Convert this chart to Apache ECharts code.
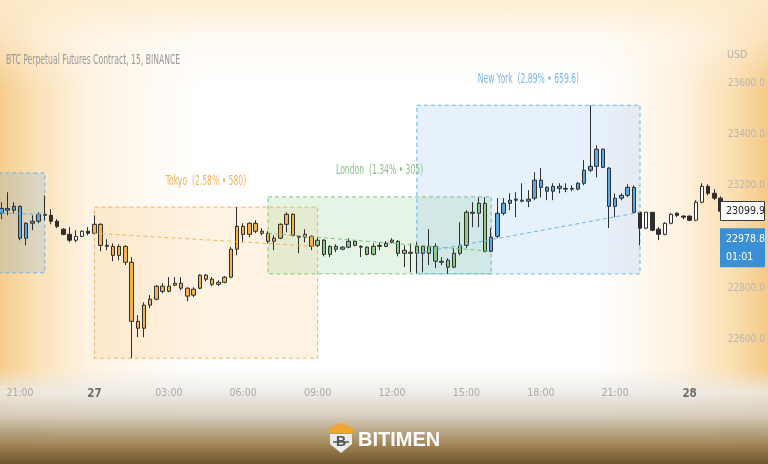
<!DOCTYPE html>
<html><head><meta charset="utf-8">
<script src="https://cdn.jsdelivr.net/npm/echarts@6/dist/echarts.min.js"></script>
<style>
html,body{margin:0;padding:0;background:#fff;}
#wrap{position:relative;width:768px;height:464px;overflow:hidden;
background:
 linear-gradient(to bottom, rgba(255,255,255,0) 0px, rgba(255,255,255,0) 368px, rgba(236,234,229,0.85) 392px, rgba(214,205,188,0.95) 415px, rgba(160,132,86,1) 445px, rgba(110,84,46,1) 464px),
 linear-gradient(to bottom, rgba(253,236,205,0.9) 0px, rgba(255,247,235,0.5) 40px, rgba(255,255,255,0) 90px),
 linear-gradient(to right, #f6cd8c 0px, #fbe3bb 40px, #fef3e3 90px, rgba(255,255,255,0) 200px, rgba(255,255,255,0) 600px, #fef2e0 680px, #fbe0b4 730px, #f5c985 768px),
 #ffffff;}
#chart{width:768px;height:464px;}
</style></head>
<body><div id="wrap"><div id="chart"></div></div>
<script>
// ---------- data ----------
const candleCount = 117;           // 15-minute candles, 26 Jan 20:15 -> 28 Jan 00:15
const startTime = Date.UTC(2023, 0, 26, 20, 15);
// [open, close, low, high]
const ohlc = [
 [23092,23111,23069,23135],[23111,23104,23084,23174],[23104,23119,23092,23135],
 [23119,22995,22987,23123],[22995,23053,22967,23057],[23053,23061,23026,23084],[23061,23088,23053,23096],
 [23088,23084,23065,23162],[23084,23061,23049,23108],[23061,23041,23034,23069],[23030,23010,23006,23034],
 [23010,22987,22979,23038],[22987,23002,22979,23026],[23002,23022,22999,23026],[23022,23014,23006,23038],
 [23014,23049,23010,23084],[23049,22967,22944,23053],[22967,22963,22948,22991],[22963,22928,22905,22975],
 [22928,22963,22909,22971],[22963,22901,22890,22967],[22901,22671,22527,22921],[22671,22644,22609,22695],
 [22644,22734,22609,22745],[22734,22757,22722,22773],[22757,22808,22753,22812],[22808,22788,22780,22819],
 [22788,22808,22784,22843],[22812,22819,22808,22843],[22819,22800,22792,22843],[22800,22769,22749,22804],
 [22773,22796,22765,22804],[22800,22851,22796,22854],[22851,22835,22827,22854],[22835,22815,22808,22843],
 [22815,22823,22808,22831],[22823,22843,22819,22847],[22843,22952,22839,22960],[22952,23041,22928,23116],
 [23041,23010,22979,23053],[23010,23053,22999,23057],[23053,23022,23014,23065],[23022,23014,23006,23034],
 [23014,22983,22975,23022],[22983,22995,22948,23006],[22995,23049,22991,23053],[23049,23088,23018,23096],
 [23088,23006,23002,23092],[23002,22999,22936,23006],[22999,23010,22979,23030],[23002,22963,22948,23006],
 [22967,22987,22960,22999],[22987,22932,22924,22991],[22932,22963,22921,22967],[22963,22952,22940,22971],
 [22952,22960,22948,22963],[22960,22983,22956,22995],[22983,22967,22963,22987],[22963,22960,22921,22967],
 [22960,22932,22928,22963],[22932,22963,22928,22975],[22963,22967,22948,22979],[22963,22975,22960,22983],
 [22979,22987,22975,22995],[22983,22936,22924,22987],[22936,22948,22882,22967],[22936,22940,22862,22975],
 [22936,22963,22858,22979],[22963,22936,22862,22967],[22936,22963,22890,23030],[22963,22905,22878,22975],
 [22905,22901,22890,22921],[22909,22882,22856,22917],[22882,22936,22878,22956],[22936,22967,22928,23057],
 [22967,23096,22956,23104],[23092,23096,23038,23135],[23092,23131,23038,23154],[23131,22944,22940,23154],
 [22944,22999,22940,23034],[23002,23092,22995,23151],[23092,23131,23084,23151],[23131,23143,23104,23170],
 [23143,23147,23077,23174],[23143,23139,23135,23209],[23139,23147,23116,23182],[23151,23221,23143,23252],
 [23221,23193,23154,23268],[23193,23178,23143,23197],[23178,23197,23143,23209],[23197,23189,23170,23209],
 [23189,23186,23174,23209],[23186,23189,23178,23201],[23186,23209,23182,23213],[23209,23260,23201,23299],
 [23260,23275,23252,23513],[23275,23342,23232,23357],[23342,23271,23268,23345],[23268,23119,23034,23271],
 [23119,23151,23077,23170],[23151,23162,23143,23170],[23162,23193,23154,23205],[23193,23096,23092,23201],
 [23096,23034,22967,23096],[23034,23096,23030,23096],[23096,23026,23022,23096],[23030,23010,22987,23038],
 [23010,23053,23006,23057],[23053,23088,23049,23092],[23092,23084,23077,23096],[23081,23077,23069,23084],
 [23081,23065,23061,23084],[23065,23135,23061,23143],[23135,23197,23131,23209],[23197,23170,23162,23205],
 [23170,23151,23143,23186],[23151,23099.9,23096,23158]
];
const sessionNames  = ['New York', 'Tokyo', 'London', 'New York'];
const sessionStart  = [null, '2023-01-27 00:00', '2023-01-27 07:00', '2023-01-27 13:00'];
const sessionEnd    = ['2023-01-26 22:00', '2023-01-27 09:00', '2023-01-27 16:00', '2023-01-27 22:00'];
const sessionHigh   = [23249, 23116, 23156, 23513];
const sessionLow    = [22860, 22527, 22856, 22856];
const sessionLabels = ['', 'Tokyo  (2.58% \u2022 580)', 'London  (1.34% \u2022 305)', 'New York  (2.89% \u2022 659.6)'];
const yTickLabels = [22600, 22800, 23200, 23400, 23600];
const lastPrice = 23099.9;
const markPrice = 22978.8;
const countdown = '01:01';
const titleText = 'BTC Perpetual Futures Contract, 15, BINANCE';

// ---------- helpers ----------
function pad(n){return (n<10?'0':'')+n;}
const categories = [];
for (let k = 0; k < candleCount; k++) {
  const d = new Date(startTime + k * 15 * 60000);
  categories.push(d.getUTCFullYear()+'-'+pad(d.getUTCMonth()+1)+'-'+pad(d.getUTCDate())+' '+pad(d.getUTCHours())+':'+pad(d.getUTCMinutes()));
}
const idxOf = c => categories.indexOf(c);

const sessStyle = [
  {fill:'#5aa8e8', area:'rgba(95,165,230,0.20)', border:'#6cb2ea', text:'#7ab8e8'},
  {fill:'#f5b24f', area:'rgba(250,190,110,0.20)', border:'#f2b560', text:'#f0b45e'},
  {fill:'#8ccb8c', area:'rgba(130,200,130,0.20)', border:'#7fc27f', text:'#8cc48c'},
  {fill:'#5aa8e8', area:'rgba(100,170,235,0.16)', border:'#6cb2ea', text:'#7ab8e8'}
];
const DARK = '#2e2e2e';
const COND = "'DejaVu Sans Condensed','DejaVu Sans',sans-serif";

function sessionOf(k){
  for (let s = 0; s < sessionNames.length; s++) {
    const st = sessionStart[s] ? idxOf(sessionStart[s]) : -Infinity;
    const en = idxOf(sessionEnd[s]);
    if (k >= st && k < en) return s;
  }
  return -1;
}

const candleData = ohlc.map((v, k) => {
  const s = sessionOf(k);
  const item = {value: v};
  if (s >= 0) item.itemStyle = {color: sessStyle[s].fill, color0: sessStyle[s].fill, borderColor: DARK, borderColor0: DARK};
  return item;
});

const areaData = sessionNames.map((n, s) => {
  const a = {yAxis: sessionHigh[s], itemStyle: {color: sessStyle[s].area, borderColor: sessStyle[s].border, borderWidth: 1, borderType: [4,3]}};
  if (sessionStart[s]) a.xAxis = sessionStart[s];
  return [a, {xAxis: sessionEnd[s], yAxis: sessionLow[s]}];
});

const lineData = sessionNames.map((n, s) => {
  const st = sessionStart[s] ? idxOf(sessionStart[s]) : 0;
  const en = idxOf(sessionEnd[s]);
  return [
    {coord: [categories[st], ohlc[st][0]], lineStyle: {color: sessStyle[s].border, type: [4,3], width: 1}},
    {coord: [categories[en], ohlc[en-1][1]]}
  ];
});

const chart = echarts.init(document.getElementById('chart'), null, {renderer: 'canvas'});
chart.setOption({
  animation: false,
  backgroundColor: 'transparent',
  grid: {left: -1.7, right: 44.3, top: 18.8, bottom: 86, containLabel: false, outerBoundsMode: 'none'},
  xAxis: {
    type: 'category', data: categories, boundaryGap: true,
    axisLine: {show: false}, axisTick: {show: false}, splitLine: {show: false},
    axisLabel: {
      margin: 10, color: '#a9a9a9', fontFamily: COND, fontSize: 10.5,
      interval: (i, v) => { const h = +v.slice(11,13), m = v.slice(14,16); return m === '00' && h % 3 === 0; },
      formatter: v => { const t = v.slice(11); return t === '00:00' ? '{d|' + (+v.slice(8,10)) + '}' : t; },
      rich: {d: {color: '#6e6e6e', fontWeight: 'bold', fontFamily: COND, fontSize: 11.5}}
    }
  },
  yAxis: {
    type: 'value', position: 'right', min: 22450, max: 23850, interval: 50,
    axisLine: {show: false}, axisTick: {show: false}, splitLine: {show: false},
    axisLabel: {margin: 4, color: '#b6b6b6', fontFamily: COND, fontSize: 10,
      formatter: v => yTickLabels.indexOf(v) >= 0 ? v.toFixed(1) : ''}
  },
  series: [{
    type: 'candlestick', data: candleData, barWidth: 4,
    itemStyle: {color: '#ffffff', color0: DARK, borderColor: DARK, borderColor0: DARK, borderWidth: 1},
    markArea: {silent: true, label: {show: false}, data: areaData},
    markLine: {silent: true, symbol: ['none','none'], label: {show: false}, data: lineData}
  }]
});

const vy1 = chart.convertToPixel({yAxisIndex: 0}, lastPrice);
const vy2 = chart.convertToPixel({yAxisIndex: 0}, markPrice);
const graphics = [
  {type: 'text', x: 6, y: 60, scaleX: 0.61, z: 100, style: {text: titleText, fill: '#9a9a9a', font: '14px ' + COND, textVerticalAlign: 'middle'}},
  {type: 'text', x: 727, y: 55, z: 100, style: {text: 'USD', fill: '#b0b0b0', font: '10.5px ' + COND, textVerticalAlign: 'middle'}},
  {type: 'rect', z: 100, shape: {x: 720.5, y: Math.round(vy1) - 9.5, width: 44, height: 19}, style: {fill: '#ffffff', stroke: '#3a3a3a', lineWidth: 1}},
  {type: 'text', x: 726, y: vy1, z: 101, style: {text: lastPrice.toFixed(1), fill: '#222', font: '10.5px ' + COND, textVerticalAlign: 'middle'}},
  {type: 'rect', z: 100, shape: {x: 720, y: vy2 - 14, width: 45, height: 39}, style: {fill: '#3b90d5'}},
  {type: 'text', x: 726, y: vy2 - 3, z: 101, style: {text: markPrice.toFixed(1), fill: '#fff', font: '10.5px ' + COND, textVerticalAlign: 'middle'}},
  {type: 'text', x: 726, y: vy2 + 15, z: 101, style: {text: countdown, fill: '#fff', font: '10.5px ' + COND, textVerticalAlign: 'middle'}},
  // logo
  {type: 'polygon', z: 100, shape: {points: [[329,428],[341,423],[353,428],[353,433],[329,433]]}, style: {fill: '#f0a52c'}},
  {type: 'polygon', z: 100, shape: {points: [[330,434],[352,434],[352,444],[341,453],[330,444]]}, style: {fill: '#ececec'}},
  {type: 'text', x: 341, y: 442, z: 101, style: {text: 'B', fill: '#555', font: 'bold 14px Liberation Sans, sans-serif', textAlign: 'center', textVerticalAlign: 'middle'}},
  {type: 'line', z: 102, shape: {x1: 333, y1: 442, x2: 349, y2: 442}, style: {stroke: '#555', lineWidth: 1.5}},
  {type: 'text', x: 358, y: 440, z: 100, style: {text: 'BITIMEN', fill: '#ffffff', font: 'bold 20px Liberation Sans, sans-serif', textVerticalAlign: 'middle'}}
];
// session titles above the boxes
sessionNames.forEach((n, s) => {
  if (!sessionLabels[s]) return;
  const x0 = chart.convertToPixel({xAxisIndex: 0}, sessionStart[s]);
  const x1 = chart.convertToPixel({xAxisIndex: 0}, sessionEnd[s]);
  const yt = chart.convertToPixel({yAxisIndex: 0}, sessionHigh[s]);
  graphics.push({type: 'text', x: (x0 + x1) / 2, y: yt - 26, scaleX: 0.63, z: 100,
    style: {text: sessionLabels[s], fill: sessStyle[s].text, font: '13.5px ' + COND, textAlign: 'center', textVerticalAlign: 'middle'}});
});
chart.setOption({graphic: graphics});
</script>
</body></html>
